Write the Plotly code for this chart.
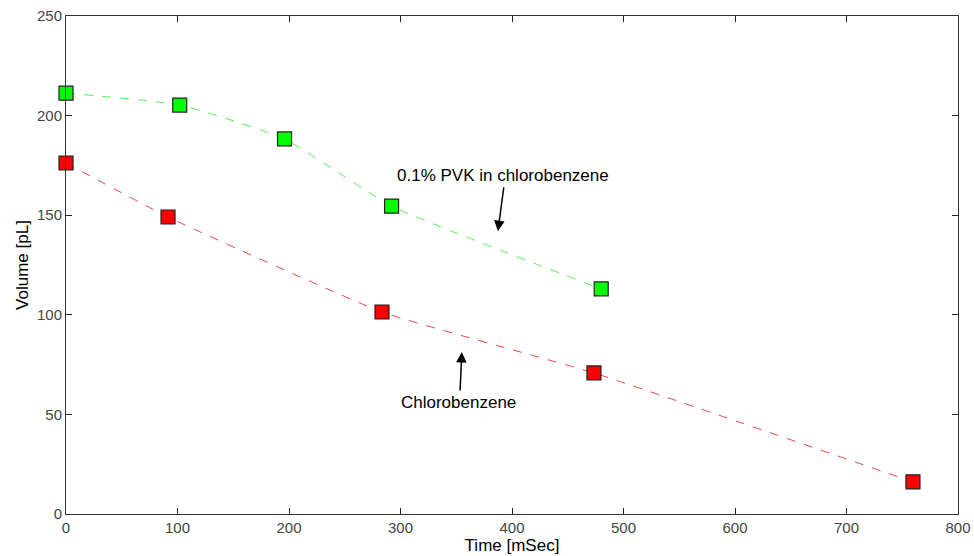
import plotly.graph_objects as go

# Data
pvk_time = [0, 102, 196, 292, 480]
pvk_volume = [211.3, 205.3, 188.3, 154.6, 113.0]

cb_time = [0, 91.5, 283.4, 473.5, 759.6]
cb_volume = [176.2, 149.1, 101.4, 70.8, 16.1]

x_ticks = [0, 100, 200, 300, 400, 500, 600, 700, 800]
y_ticks = [0, 50, 100, 150, 200, 250]

FONT = "Liberation Sans, Arial, sans-serif"

fig = go.Figure()

fig.add_trace(go.Scatter(
    x=pvk_time, y=pvk_volume, mode="lines", line_shape="spline",
    line=dict(color="#55ee55", width=1, dash="dash", smoothing=0.45), showlegend=False, hoverinfo="skip"))
fig.add_trace(go.Scatter(
    x=cb_time, y=cb_volume, mode="lines", line_shape="spline",
    line=dict(color="#ee4444", width=1, dash="dash", smoothing=0.4), showlegend=False, hoverinfo="skip"))
fig.add_trace(go.Scatter(
    x=pvk_time, y=pvk_volume, mode="markers", cliponaxis=False,
    marker=dict(symbol="square", size=14, color="#00ff00", line=dict(color="#222222", width=1.2)),
    name="0.1% PVK in chlorobenzene", showlegend=False))
fig.add_trace(go.Scatter(
    x=cb_time, y=cb_volume, mode="markers", cliponaxis=False,
    marker=dict(symbol="square", size=14, color="#ff0000", line=dict(color="#222222", width=1.2)),
    name="Chlorobenzene", showlegend=False))

annotations = [
    dict(x=391.5, y=169.8, text="0.1% PVK in chlorobenzene", showarrow=False,
         font=dict(family=FONT, size=17, color="black")),
    dict(x=387.4, y=142.0, ax=392.8, ay=164.7, axref="x", ayref="y", text="",
         showarrow=True, arrowhead=2, arrowsize=1.4, arrowwidth=1.5, arrowcolor="black"),
    dict(x=352.2, y=56.1, text="Chlorobenzene", showarrow=False,
         font=dict(family=FONT, size=17, color="black")),
    dict(x=355.0, y=81.3, ax=353.4, ay=61.2, axref="x", ayref="y", text="",
         showarrow=True, arrowhead=2, arrowsize=1.4, arrowwidth=1.5, arrowcolor="black"),
]

axis_common = dict(
    showgrid=False, zeroline=False, showline=True, linecolor="#333333", linewidth=1,
    mirror="ticks", ticks="inside", ticklen=6, tickcolor="#222222",
    tickfont=dict(family=FONT, size=15, color="#444444"), automargin=False,
    ticklabeloverflow="allow",
)

fig.update_layout(
    width=974, height=556,
    margin=dict(l=66, r=16, t=16, b=42),
    paper_bgcolor="white", plot_bgcolor="white",
    font=dict(family=FONT),
    annotations=annotations,
    xaxis=dict(range=[0, 800], tickvals=x_ticks, ticktext=[str(v) for v in x_ticks],
               title=dict(text="Time [mSec]", font=dict(family=FONT, size=17, color="black"), standoff=0),
               ticklabelstandoff=0,
               **axis_common),
    yaxis=dict(range=[0, 250], tickvals=y_ticks, ticktext=[str(v) for v in y_ticks],
               title=dict(text="Volume [pL]", font=dict(family=FONT, size=17, color="black"), standoff=4),
               ticklabelstandoff=0,
               **axis_common),
)

fig.write_html(
    "out.html",
    config={"displayModeBar": False},
    post_script="document.body.style.margin='0';document.documentElement.style.overflow='hidden';",
)
